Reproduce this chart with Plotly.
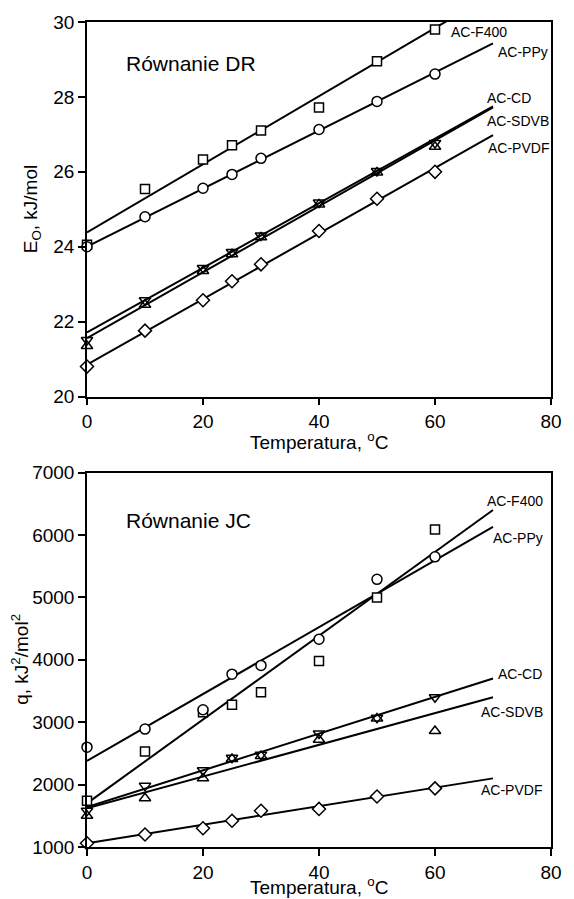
import plotly.graph_objects as go

# ---- data ----
temps = [0, 10, 20, 25, 30, 40, 50, 60]
series_names = ["AC-F400", "AC-PPy", "AC-CD", "AC-SDVB", "AC-PVDF"]

dr_f400 = [24.05, 25.54, 26.33, 26.71, 27.10, 27.72, 28.95, 29.80]
dr_ppy = [24.00, 24.80, 25.56, 25.93, 26.36, 27.13, 27.88, 28.61]
dr_cd = [21.51, 22.57, 23.43, 23.86, 24.30, 25.18, 26.02, 26.77]
dr_sdvb = [21.35, 22.45, 23.35, 23.80, 24.25, 25.13, 25.98, 26.67]
dr_pvdf = [20.80, 21.76, 22.57, 23.08, 23.53, 24.42, 25.28, 26.00]

jc_f400 = [1740, 2530, 3160, 3280, 3480, 3980, 5000, 6090]
jc_ppy = [2600, 2890, 3200, 3770, 3910, 4330, 5290, 5650]
jc_cd = [1580, 1980, 2230, 2430, 2480, 2820, 3070, 3400]
jc_sdvb = [1500, 1780, 2100, 2410, 2460, 2720, 3060, 2860]
jc_pvdf = [1060, 1200, 1300, 1420, 1580, 1610, 1810, 1940]

# fitted lines: value at T = 0 and at T = 70
fit_t = [0, 70]
dr_fit_start = [24.38, 24.00, 21.71, 21.56, 20.85]
dr_fit_end = [30.75, 29.43, 27.75, 27.72, 26.98]
jc_fit_start = [1700, 2380, 1640, 1620, 1060]
jc_fit_end = [6400, 6130, 3700, 3400, 2100]

# label positions (data coords)
dr_label_x = [62.4, 70.5, 68.6, 68.6, 68.8]
dr_label_y = [29.73, 29.20, 27.96, 27.36, 26.63]
jc_label_x = [68.7, 69.7, 70.6, 67.5, 67.5]
jc_label_y = [6547, 5950, 3774, 3171, 1907]

x_ticks = [0, 20, 40, 60, 80]
dr_ticks = [20, 22, 24, 26, 28, 30]
jc_ticks = [1000, 2000, 3000, 4000, 5000, 6000, 7000]

dr_series = [dr_f400, dr_ppy, dr_cd, dr_sdvb, dr_pvdf]
jc_series = [jc_f400, jc_ppy, jc_cd, jc_sdvb, jc_pvdf]

symbols = ["square", "circle", "triangle-down-open", "triangle-up-open", "diamond"]
sizes = [9, 10, 10, 10, 10]

FONT = "Liberation Sans, Arial, sans-serif"

fig = go.Figure()

for i, name in enumerate(series_names):
    fig.add_trace(go.Scatter(x=fit_t, y=[dr_fit_start[i], dr_fit_end[i]], mode="lines",
                             line=dict(color="black", width=2), xaxis="x", yaxis="y",
                             showlegend=False, hoverinfo="skip"))
    fig.add_trace(go.Scatter(x=fit_t, y=[jc_fit_start[i], jc_fit_end[i]], mode="lines",
                             line=dict(color="black", width=2), xaxis="x2", yaxis="y2",
                             showlegend=False, hoverinfo="skip"))

for i, name in enumerate(series_names):
    mk = dict(symbol=symbols[i], size=sizes[i], color="white",
              line=dict(color="black", width=1.5))
    if symbols[i].endswith("open"):
        mk["color"] = "black"
    fig.add_trace(go.Scatter(x=temps, y=dr_series[i], mode="markers", marker=mk,
                             xaxis="x", yaxis="y", name=name, showlegend=False,
                             cliponaxis=False))
    fig.add_trace(go.Scatter(x=temps, y=jc_series[i], mode="markers", marker=mk,
                             xaxis="x2", yaxis="y2", name=name, showlegend=False,
                             cliponaxis=False))

axis_common = dict(showline=True, linecolor="black", linewidth=1.5, mirror=True,
                   ticks="outside", ticklen=7, tickwidth=1.5, tickcolor="black",
                   showgrid=False, zeroline=False,
                   tickfont=dict(family=FONT, size=19, color="black"))

fig.update_layout(
    width=574, height=899,
    margin=dict(l=87, r=15, t=20, b=52),
    plot_bgcolor="white", paper_bgcolor="white",
    font=dict(family=FONT, color="black"),
    xaxis=dict(domain=[0, 1], range=[0, 80], tickvals=x_ticks, anchor="y", **axis_common),
    yaxis=dict(domain=[0.546, 1], range=[20, 30], tickvals=dr_ticks, anchor="x", **axis_common),
    xaxis2=dict(domain=[0, 1], range=[0, 80], tickvals=x_ticks, anchor="y2", **axis_common),
    yaxis2=dict(domain=[0, 0.4538], range=[1000, 7000], tickvals=jc_ticks, anchor="x2", **axis_common),
)

annotations = []
for i, name in enumerate(series_names):
    annotations.append(dict(x=dr_label_x[i], y=dr_label_y[i], xref="x", yref="y", text=name,
                            showarrow=False, xanchor="left", yanchor="middle",
                            font=dict(family=FONT, size=14, color="black")))
    annotations.append(dict(x=jc_label_x[i], y=jc_label_y[i], xref="x2", yref="y2", text=name,
                            showarrow=False, xanchor="left", yanchor="middle",
                            font=dict(family=FONT, size=14, color="black")))

annotations += [
    dict(x=6.4, y=28.89, xref="x", yref="y", text="Równanie DR", showarrow=False,
         xanchor="left", yanchor="middle", font=dict(family=FONT, size=21, color="black")),
    dict(x=6.4, y=6227, xref="x2", yref="y2", text="Równanie JC", showarrow=False,
         xanchor="left", yanchor="middle", font=dict(family=FONT, size=21, color="black")),
    dict(x=0.5, y=0.546, xref="paper", yref="paper", yshift=-44, text="Temperatura, <sup>o</sup>C",
         showarrow=False, xanchor="center", yanchor="middle",
         font=dict(family=FONT, size=19, color="black")),
    dict(x=0.5, y=0, xref="paper", yref="paper", yshift=-39, text="Temperatura, <sup>o</sup>C",
         showarrow=False, xanchor="center", yanchor="middle",
         font=dict(family=FONT, size=19, color="black")),
    dict(x=0, y=0.773, xref="paper", yref="paper", xshift=-55, text="E<sub>O</sub>, kJ/mol",
         showarrow=False, xanchor="center", yanchor="middle", textangle=-90,
         font=dict(family=FONT, size=19, color="black")),
    dict(x=0, y=0.2269, xref="paper", yref="paper", xshift=-67,
         text="q, kJ<sup>2</sup>/mol<sup>2</sup>",
         showarrow=False, xanchor="center", yanchor="middle", textangle=-90,
         font=dict(family=FONT, size=19, color="black")),
]
fig.update_layout(annotations=annotations)

# remove the default 8px page margin so the figure fills the window exactly
fig.write_html("out.html", config={"displayModeBar": False},
               post_script="document.body.style.margin='0';")
